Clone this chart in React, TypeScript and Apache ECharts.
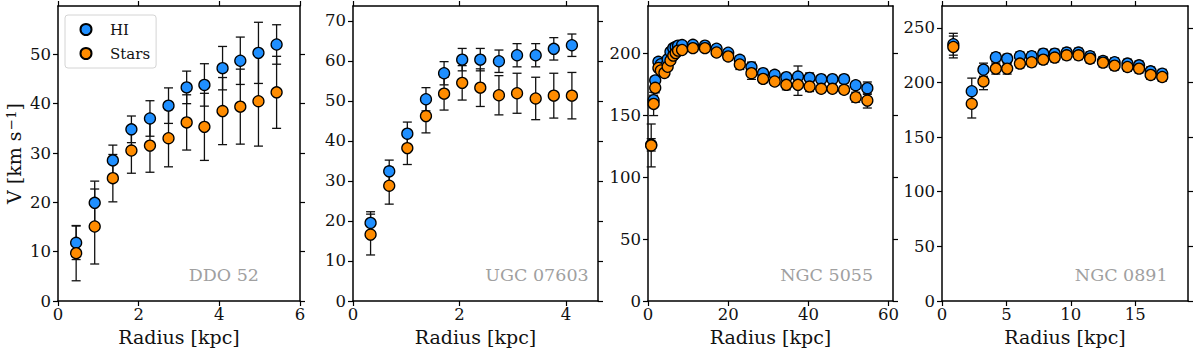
import React, { useEffect, useRef } from "react";
import * as echarts from "echarts";

// ---------- DATA ----------
// DDO 52
const R1 = [0.45, 0.91, 1.36, 1.82, 2.28, 2.74, 3.19, 3.63, 4.08, 4.52, 4.97, 5.42];
const HI1 = [11.8, 19.9, 28.5, 34.8, 37.0, 39.6, 43.3, 43.8, 47.2, 48.7, 50.3, 52.0];
const HIE1 = [3.4, 4.4, 3.1, 2.7, 3.6, 3.6, 3.3, 4.3, 4.4, 4.8, 6.2, 4.0];
const ST1 = [9.7, 15.1, 24.9, 30.5, 31.5, 33.0, 36.2, 35.3, 38.5, 39.4, 40.5, 42.3];
const STE1 = [5.6, 7.6, 4.8, 4.6, 5.4, 5.8, 5.6, 6.8, 6.8, 7.6, 9.1, 7.3];

// UGC 07603
const R2 = [0.33, 0.68, 1.02, 1.37, 1.71, 2.05, 2.39, 2.74, 3.08, 3.43, 3.77, 4.11];
const HI2 = [19.5, 32.4, 41.8, 50.4, 56.9, 60.3, 60.3, 59.9, 61.4, 61.4, 63.0, 63.9];
const HIE2 = [2.8, 2.8, 2.9, 2.9, 2.9, 2.8, 2.8, 2.8, 2.9, 2.9, 2.8, 2.8];
const ST2 = [16.6, 28.8, 38.2, 46.2, 51.8, 54.5, 53.3, 51.4, 51.9, 50.6, 51.3, 51.3];
const STE2 = [5.1, 4.6, 4.1, 4.2, 4.1, 4.3, 4.7, 4.9, 5.0, 5.3, 5.6, 5.8];

// NGC 5055
const R3 = [0.8, 1.4, 1.8, 2.6, 3.2, 4.1, 4.9, 5.6, 6.3, 6.9, 7.5, 8.5,
  11.2, 14.2, 17.1, 20.0, 22.9, 25.8, 28.7, 31.6, 34.5, 37.4, 40.3, 43.2, 46.0, 48.9, 51.8, 54.7];
const HI3 = [126, 162, 178, 193, 191, 189, 195, 201, 204, 205, 206, 206.5,
  206.7, 206, 203.5, 200.3, 194.6, 188.7, 183.8, 182.5, 180.6, 181.1, 180, 179, 179, 179, 174.1, 171.7];
const HIE3 = [5, 4, 3, 3, 3, 3, 3, 3, 2.5, 2.5, 2.5, 2.5,
  2.5, 2.5, 3, 2.5, 3, 4, 3, 3, 3, 8.5, 4, 3, 3, 3, 3, 5];
const ST3 = [125.5, 159, 172, 188, 186, 184, 189, 194, 198, 200, 202, 202.5,
  204, 204, 200.5, 197.3, 190.8, 183.8, 179.2, 177.1, 174.4, 174.4, 173, 171.2, 171.2, 170.4, 164.4, 161.7];
const STE3 = [17.3, 9.4, 4, 3, 3, 3, 3, 3, 3, 2.5, 2.5, 2.5,
  2.5, 2.5, 3, 3, 4, 5, 3, 3, 4, 8.5, 4, 3, 3, 3, 4, 6];

// NGC 0891
const R4 = [0.88, 2.31, 3.22, 4.18, 5.06, 6.05, 6.96, 7.86, 8.75, 9.68, 10.6, 11.5, 12.5, 13.4, 14.4, 15.3, 16.2, 17.1];
const HI4 = [235, 192, 211.7, 223.1, 221.8, 224, 224, 226.4, 226.4, 227.4, 227.4, 224, 219.7, 218.5, 217.3, 215.7, 210.2, 208];
const HIE4 = [10, 12, 6, 4, 4, 4, 4, 4, 4, 4, 4, 4, 4, 4, 4, 4, 4, 4];
const ST4 = [232.5, 180.5, 201, 212.7, 212.7, 217.3, 218.5, 220.9, 222.8, 224.9, 224.9, 221.8, 218.2, 215.4, 214.2, 212.7, 206.9, 205];
const STE4 = [10, 13, 7.6, 5, 5, 4, 4, 4, 4, 4, 4, 4, 4, 4, 4, 4, 4, 4];

const NAMES = ["DDO 52", "UGC 07603", "NGC 5055", "NGC 0891"];
const X_MAX = [6, 4.6, 61.1, 19.1];
const Y_MAX = [59.8, 73.7, 238, 270];
const X_TICKS = [[0, 2, 4, 6], [0, 2, 4], [0, 20, 40, 60], [0, 5, 10, 15]];
const Y_TICKS = [
  [0, 10, 20, 30, 40, 50],
  [0, 10, 20, 30, 40, 50, 60, 70],
  [0, 50, 100, 150, 200],
  [0, 50, 100, 150, 200, 250],
];

const PANELS = [
  { r: R1, hi: HI1, hie: HIE1, st: ST1, ste: STE1 },
  { r: R2, hi: HI2, hie: HIE2, st: ST2, ste: STE2 },
  { r: R3, hi: HI3, hie: HIE3, st: ST3, ste: STE3 },
  { r: R4, hi: HI4, hie: HIE4, st: ST4, ste: STE4 },
];

// ---------- STYLE / LAYOUT ----------
const FONT = "DejaVu Serif";
const GRIDS = [
  { left: 58, top: 6, width: 242, height: 295 },
  { left: 353, top: 6, width: 245, height: 295 },
  { left: 648, top: 6, width: 245, height: 295 },
  { left: 942, top: 6, width: 246, height: 295 },
];
const BLUE = "#1f8fff";
const ORANGE = "#ff8c00";

function errRender(params: any, api: any) {
  const x = api.value(0);
  const lo = api.coord([x, api.value(1)]);
  const hi = api.coord([x, api.value(2)]);
  const hw = 4.5;
  const st = { stroke: "#111", lineWidth: 1.3 };
  return {
    type: "group",
    children: [
      { type: "line", shape: { x1: lo[0], y1: lo[1], x2: hi[0], y2: hi[1] }, style: st },
      { type: "line", shape: { x1: lo[0] - hw, y1: lo[1], x2: lo[0] + hw, y2: lo[1] }, style: st },
      { type: "line", shape: { x1: hi[0] - hw, y1: hi[1], x2: hi[0] + hw, y2: hi[1] }, style: st },
    ],
  };
}

export default function App() {
  const ref = useRef<HTMLDivElement>(null);
  useEffect(() => {
    document.body.style.margin = "0";
    if (!ref.current) return;
    const chart = echarts.init(ref.current, null, { renderer: "svg" });

    const axisLine = { show: true, onZero: false, lineStyle: { color: "#000", width: 1.5 } };
    const tickStyle = { color: "#000", width: 1.2 };
    const labelStyle = { fontFamily: FONT, fontSize: 16.5, color: "#111" };
    const nameStyle = { fontFamily: FONT, fontSize: 19, color: "#111" };

    const xAxis: any[] = [];
    const yAxis: any[] = [];
    const series: any[] = [];
    const graphic: any[] = [];

    PANELS.forEach((p, i) => {
      xAxis.push({
        type: "value", gridIndex: i, min: 0, max: X_MAX[i], position: "bottom",
        axisLine, splitLine: { show: false },
        axisTick: { show: true, length: 5, lineStyle: tickStyle, customValues: X_TICKS[i] },
        axisLabel: { ...labelStyle, margin: 5, customValues: X_TICKS[i] },
        name: "Radius [kpc]", nameLocation: "middle", nameGap: 26,
        nameTextStyle: nameStyle,
      });
      xAxis.push({
        type: "value", gridIndex: i, min: 0, max: X_MAX[i], position: "top",
        axisLine, splitLine: { show: false },
        axisTick: { show: true, length: 5, lineStyle: tickStyle, customValues: X_TICKS[i] },
        axisLabel: { show: false },
      });
      yAxis.push({
        type: "value", gridIndex: i, min: 0, max: Y_MAX[i], position: "left",
        axisLine, splitLine: { show: false },
        axisTick: { show: true, length: 5, lineStyle: tickStyle, customValues: Y_TICKS[i] },
        axisLabel: { ...labelStyle, margin: 7, customValues: Y_TICKS[i] },
        ...(i === 0
          ? {
              name: "V [km s{sup|\u22121}]", nameLocation: "middle", nameGap: 35,
              nameTextStyle: {
                ...nameStyle,
                rich: {
                  sup: { fontFamily: FONT, fontSize: 13.5, color: "#111", verticalAlign: "top", padding: [0, 0, 0, 1] },
                },
              },
            }
          : {}),
      });
      yAxis.push({
        type: "value", gridIndex: i, min: 0, max: Y_MAX[i], position: "right",
        axisLine, splitLine: { show: false },
        axisTick: { show: true, length: 5, lineStyle: tickStyle, customValues: Y_TICKS[i] },
        axisLabel: { show: false },
      });

      const xi = 2 * i;
      const yi = 2 * i;
      series.push({
        type: "custom", name: "HI err", xAxisIndex: xi, yAxisIndex: yi,
        renderItem: errRender, encode: { x: 0, y: [1, 2] },
        data: p.r.map((r, k) => [r, p.hi[k] - p.hie[k], p.hi[k] + p.hie[k]]),
        silent: true,
      });
      series.push({
        type: "scatter", name: "HI", xAxisIndex: xi, yAxisIndex: yi,
        symbol: "circle", symbolSize: 11,
        itemStyle: { color: BLUE, borderColor: "#000", borderWidth: 1.3, opacity: 1 },
        data: p.r.map((r, k) => [r, p.hi[k]]),
      });
      series.push({
        type: "custom", name: "Stars err", xAxisIndex: xi, yAxisIndex: yi,
        renderItem: errRender, encode: { x: 0, y: [1, 2] },
        data: p.r.map((r, k) => [r, p.st[k] - p.ste[k], p.st[k] + p.ste[k]]),
        silent: true,
      });
      series.push({
        type: "scatter", name: "Stars", xAxisIndex: xi, yAxisIndex: yi,
        symbol: "circle", symbolSize: 11,
        itemStyle: { color: ORANGE, borderColor: "#000", borderWidth: 1.3, opacity: 1 },
        data: p.r.map((r, k) => [r, p.st[k]]),
      });

      const g = GRIDS[i];
      graphic.push({
        type: "text",
        x: g.left + 0.54 * g.width,
        y: 275,
        style: {
          text: NAMES[i], fill: "#a0a0a0", font: `17.5px "${FONT}"`,
          textAlign: "left", textVerticalAlign: "middle",
        },
      });
    });

    chart.setOption({
      animation: false,
      backgroundColor: "#fff",
      grid: GRIDS.map((g) => ({ ...g, containLabel: false })),
      xAxis,
      yAxis,
      series,
      graphic,
      legend: {
        data: ["HI", "Stars"],
        orient: "vertical",
        left: 65,
        top: 15,
        icon: "circle",
        itemWidth: 38,
        itemHeight: 11,
        itemGap: 9,
        padding: [7, 6, 7, 14.5],
        borderColor: "#d4d4d4",
        borderWidth: 1,
        borderRadius: 3,
        backgroundColor: "rgba(255,255,255,0.85)",
        textStyle: { fontFamily: FONT, fontSize: 15, color: "#111", lineHeight: 11 },
        selectedMode: false,
      },
    });
    return () => chart.dispose();
  }, []);
  return <div ref={ref} style={{ width: 1200, height: 352 }} />;
}
